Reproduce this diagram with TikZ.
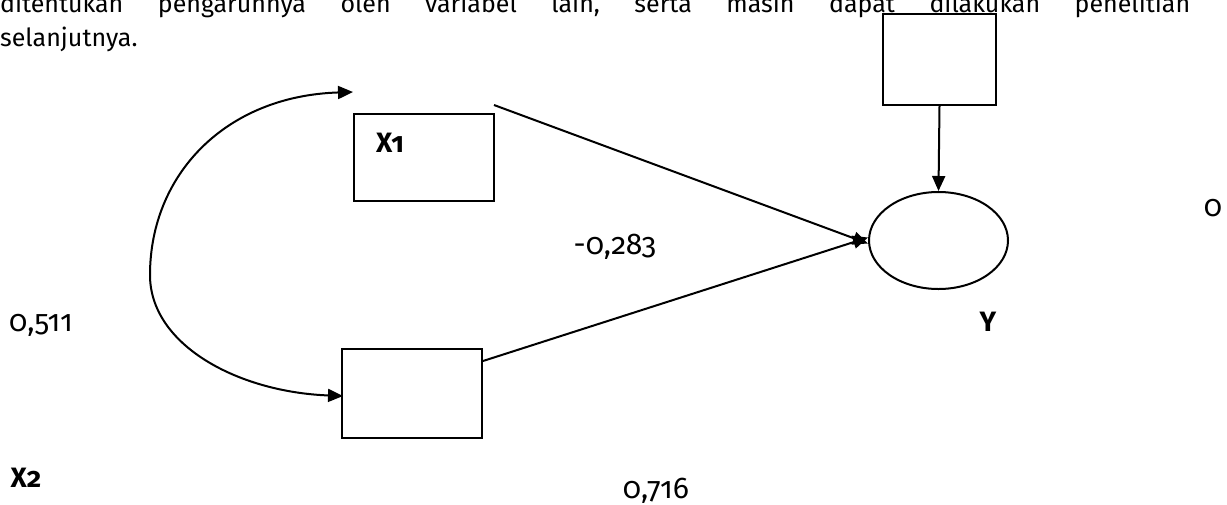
\documentclass[tikz,border=0pt]{standalone}
\usepackage{fontspec}
\setmainfont{Fira Sans}[Numbers=OldStyle]
\usetikzlibrary{shapes.geometric,arrows.meta}
\tikzset{
  box/.style={draw,line width=2pt,rectangle,inner sep=0pt},
  tip/.tip={Triangle[length=15pt,width=13pt]},
  conn/.style={line width=2pt,-tip},
  lbl/.style={inner sep=0pt,font=\fontsize{25pt}{30pt}\selectfont},
  nlbl/.style={inner sep=0pt,font=\fontsize{30pt}{36pt}\selectfont},
  blbl/.style={inner sep=0pt,font=\fontsize{28pt}{34pt}\selectfont\bfseries},
}
\begin{document}
\begin{tikzpicture}[x=1pt,y=-1pt]
\useasboundingbox[fill=white] (0,0) rectangle (1227,504);
% body text
\node[lbl,anchor=base west] (t1) at (0,12) {\hbox to 1190pt{ditentukan\hfill pengaruhnya\hfill oleh\hfill variabel\hfill lain,\hfill serta\hfill masih\hfill dapat\hfill dilakukan\hfill penelitian}};
\node[lbl,anchor=base west] (t2) at (0,46) {selanjutnya.};
% boxes
\node[box,minimum width=113pt,minimum height=91pt] (E) at (939.5,59.5) {};
\node[box,minimum width=140pt,minimum height=87pt] (X1) at (424,157.5) {};
\node[box,minimum width=140pt,minimum height=89pt] (X2) at (412,393.5) {};
\node[draw,line width=2pt,ellipse,minimum width=139pt,minimum height=97pt,inner sep=0pt] (Y) at (938.5,240.5) {};
% labels
\node[blbl] (lx1) at (390,143) {X1};
\node[blbl] (lx2) at (26,478) {X2};
\node[blbl] (ly) at (988,322) {Y};
\node[nlbl] (l283) at (615,247) {-0,283};
\node[nlbl] (l511) at (41,325) {0,511};
\node[nlbl] (l716) at (656,491) {0,716};
\node[nlbl] (l0) at (1213,208) {0};
% connectors
\coordinate (s1) at (494,105);
\coordinate (ca) at (353,92);
\coordinate (cb) at (343,396);
\draw[conn] (E.south) -- (Y.north);
\draw[conn] (s1) -- ([yshift=-3pt]Y.west);
\draw[conn] (X2.north east) ++(0,13) -- ([yshift=3pt]Y.west);
\draw[line width=2pt,tip-tip] (ca) .. controls (225,96) and (150,175) .. (150,275) .. controls (150,345) and (238,392) .. (cb);
\end{tikzpicture}
\end{document}
